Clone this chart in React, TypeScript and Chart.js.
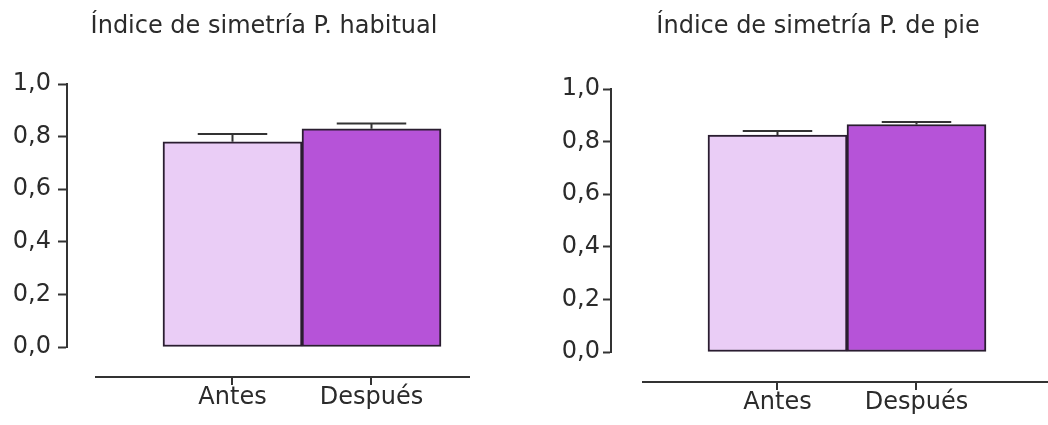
import React, { useEffect, useRef } from "react";
import { Chart, registerables } from "chart.js";

Chart.register(...registerables);

// ---- data ----
const categories = ["Antes", "Después"];
const habitualValues = [0.78, 0.83];
const habitualErrors = [0.03, 0.02];
const pieValues = [0.825, 0.865];
const pieErrors = [0.015, 0.01];
const yTickValues = [0, 0.2, 0.4, 0.6, 0.8, 1.0];
const titleHabitual = "Índice de simetría P. habitual";
const titlePie = "Índice de simetría P. de pie";

// ---- styles ----
const FONT = "'DejaVu Sans', Verdana, sans-serif";
const TEXT_COLOR = "#2b2b2b";
const AXIS_COLOR = "#333333";
const BAR_FILLS = ["#EACDF6", "#B653D8"];
const BAR_BORDER = "#2a1d30";

type PanelLayout = {
  left: number;
  width: number;
  yAxisWidth: number;
  padRight: number;
  padBottom: number;
  titleTop: number;
  titleBottom: number;
  xMin: number;
  xMax: number;
  xScaleHeight: number;
  yTickLen: number;
  yTickPad: number;
  xLabelPad: number;
  axisGap: number;
  axisStartOffset: number;
  axisEnd: number;
};

const offsetAxisPlugin = {
  id: "offsetAxisAndErrors",
  afterDatasetsDraw(chart: any, _args: any, opts: any) {
    const { ctx, chartArea, scales } = chart;
    const xs = scales.x;
    const ys = scales.y;
    const meta = chart.getDatasetMeta(0);
    const values: number[] = opts.values;
    const errors: number[] = opts.errors;
    ctx.save();
    ctx.strokeStyle = AXIS_COLOR;
    ctx.lineWidth = 2;
    // upper error bars
    meta.data.forEach((bar: any, i: number) => {
      const top = ys.getPixelForValue(values[i] + errors[i]);
      const half = bar.width / 4;
      ctx.beginPath();
      ctx.moveTo(bar.x, bar.y);
      ctx.lineTo(bar.x, top);
      ctx.moveTo(bar.x - half, top);
      ctx.lineTo(bar.x + half, top);
      ctx.stroke();
    });
    // offset x axis line with tick marks
    const yLine = chartArea.bottom + opts.axisGap;
    ctx.beginPath();
    ctx.moveTo(chartArea.left + opts.axisStartOffset, yLine);
    ctx.lineTo(opts.axisEnd, yLine);
    categories.forEach((_c, i) => {
      const px = Math.round(xs.getPixelForValue(i));
      ctx.moveTo(px, yLine);
      ctx.lineTo(px, yLine + 8);
    });
    ctx.stroke();
    ctx.restore();
  },
};

function Panel(props: {
  title: string;
  values: number[];
  errors: number[];
  layout: PanelLayout;
}) {
  const ref = useRef<HTMLCanvasElement | null>(null);
  const { title, values, errors, layout } = props;
  useEffect(() => {
    if (!ref.current) return;
    const chart = new Chart(ref.current, {
      type: "bar",
      data: {
        datasets: [
          {
            data: values.map((v, i) => ({ x: i, y: v })),
            backgroundColor: BAR_FILLS,
            borderColor: BAR_BORDER,
            borderWidth: 2,
            borderSkipped: false,
            barPercentage: 1,
            categoryPercentage: 1,
          } as any,
        ],
      },
      options: {
        animation: false,
        responsive: false,
        maintainAspectRatio: false,
        layout: {
          padding: { left: 0, right: layout.padRight, top: 0, bottom: layout.padBottom },
        },
        plugins: {
          legend: { display: false },
          tooltip: { enabled: false },
          title: {
            display: true,
            text: title,
            color: TEXT_COLOR,
            font: { family: FONT, size: 24, weight: "normal" as any, lineHeight: 1.2 },
            padding: { top: layout.titleTop, bottom: layout.titleBottom },
          },
          offsetAxisAndErrors: {
            values,
            errors,
            axisGap: layout.axisGap,
            axisStartOffset: layout.axisStartOffset,
            axisEnd: layout.axisEnd,
          },
        } as any,
        scales: {
          x: {
            type: "linear",
            offset: false,
            min: layout.xMin,
            max: layout.xMax,
            grid: { display: false, drawTicks: false, offset: false },
            border: { display: false },
            afterBuildTicks: (s: any) => {
              s.ticks = categories.map((_c, i) => ({ value: i }));
            },
            afterFit: (s: any) => {
              s.height = layout.xScaleHeight;
            },
            ticks: {
              autoSkip: false,
              maxRotation: 0,
              minRotation: 0,
              padding: layout.xLabelPad,
              color: TEXT_COLOR,
              font: { family: FONT, size: 24, lineHeight: 1.2 },
              callback: (v: any) => categories[Number(v)] ?? "",
            },
          },
          y: {
            min: 0,
            max: 1,
            afterBuildTicks: (s: any) => {
              s.ticks = yTickValues.map((v) => ({ value: v }));
            },
            afterFit: (s: any) => {
              s.width = layout.yAxisWidth;
            },
            grid: {
              drawOnChartArea: false,
              tickLength: layout.yTickLen,
              tickWidth: 2,
              tickColor: AXIS_COLOR,
            },
            border: { display: true, width: 2, color: AXIS_COLOR },
            ticks: {
              padding: layout.yTickPad,
              color: TEXT_COLOR,
              font: { family: FONT, size: 24, lineHeight: 1.2 },
              callback: (v: any) => Number(v).toFixed(1).replace(".", ","),
            },
          },
        } as any,
      },
      plugins: [offsetAxisPlugin],
    });
    return () => chart.destroy();
  }, [title, values, errors, layout]);

  return (
    <canvas
      ref={ref}
      width={layout.width}
      height={425}
      style={{
        position: "absolute",
        left: layout.left,
        top: 0,
        width: layout.width,
        height: 425,
      }}
    />
  );
}

const leftLayout: PanelLayout = {
  left: 0,
  width: 530,
  yAxisWidth: 67,
  padRight: 2,
  padBottom: 15.2,
  titleTop: 12,
  titleBottom: 43.2,
  xMin: -1.1906,
  xMax: 2.1259,
  xScaleHeight: 62.8,
  yTickLen: 9,
  yTickPad: 7,
  xLabelPad: 36,
  axisGap: 30,
  axisStartOffset: 28,
  axisEnd: 470,
};

const rightLayout: PanelLayout = {
  left: 540,
  width: 560,
  yAxisWidth: 71,
  padRight: 4,
  padBottom: 10.2,
  titleTop: 12,
  titleBottom: 48.2,
  xMin: -1.1978,
  xMax: 2.2914,
  xScaleHeight: 62.8,
  yTickLen: 8,
  yTickPad: 3,
  xLabelPad: 36,
  axisGap: 30,
  axisStartOffset: 31,
  axisEnd: 508,
};

export default function App() {
  return (
    <div
      style={{
        position: "fixed",
        left: 0,
        top: 0,
        width: 1048,
        height: 425,
        overflow: "hidden",
        background: "#ffffff",
      }}
    >
      <Panel title={titleHabitual} values={habitualValues} errors={habitualErrors} layout={leftLayout} />
      <Panel title={titlePie} values={pieValues} errors={pieErrors} layout={rightLayout} />
    </div>
  );
}
